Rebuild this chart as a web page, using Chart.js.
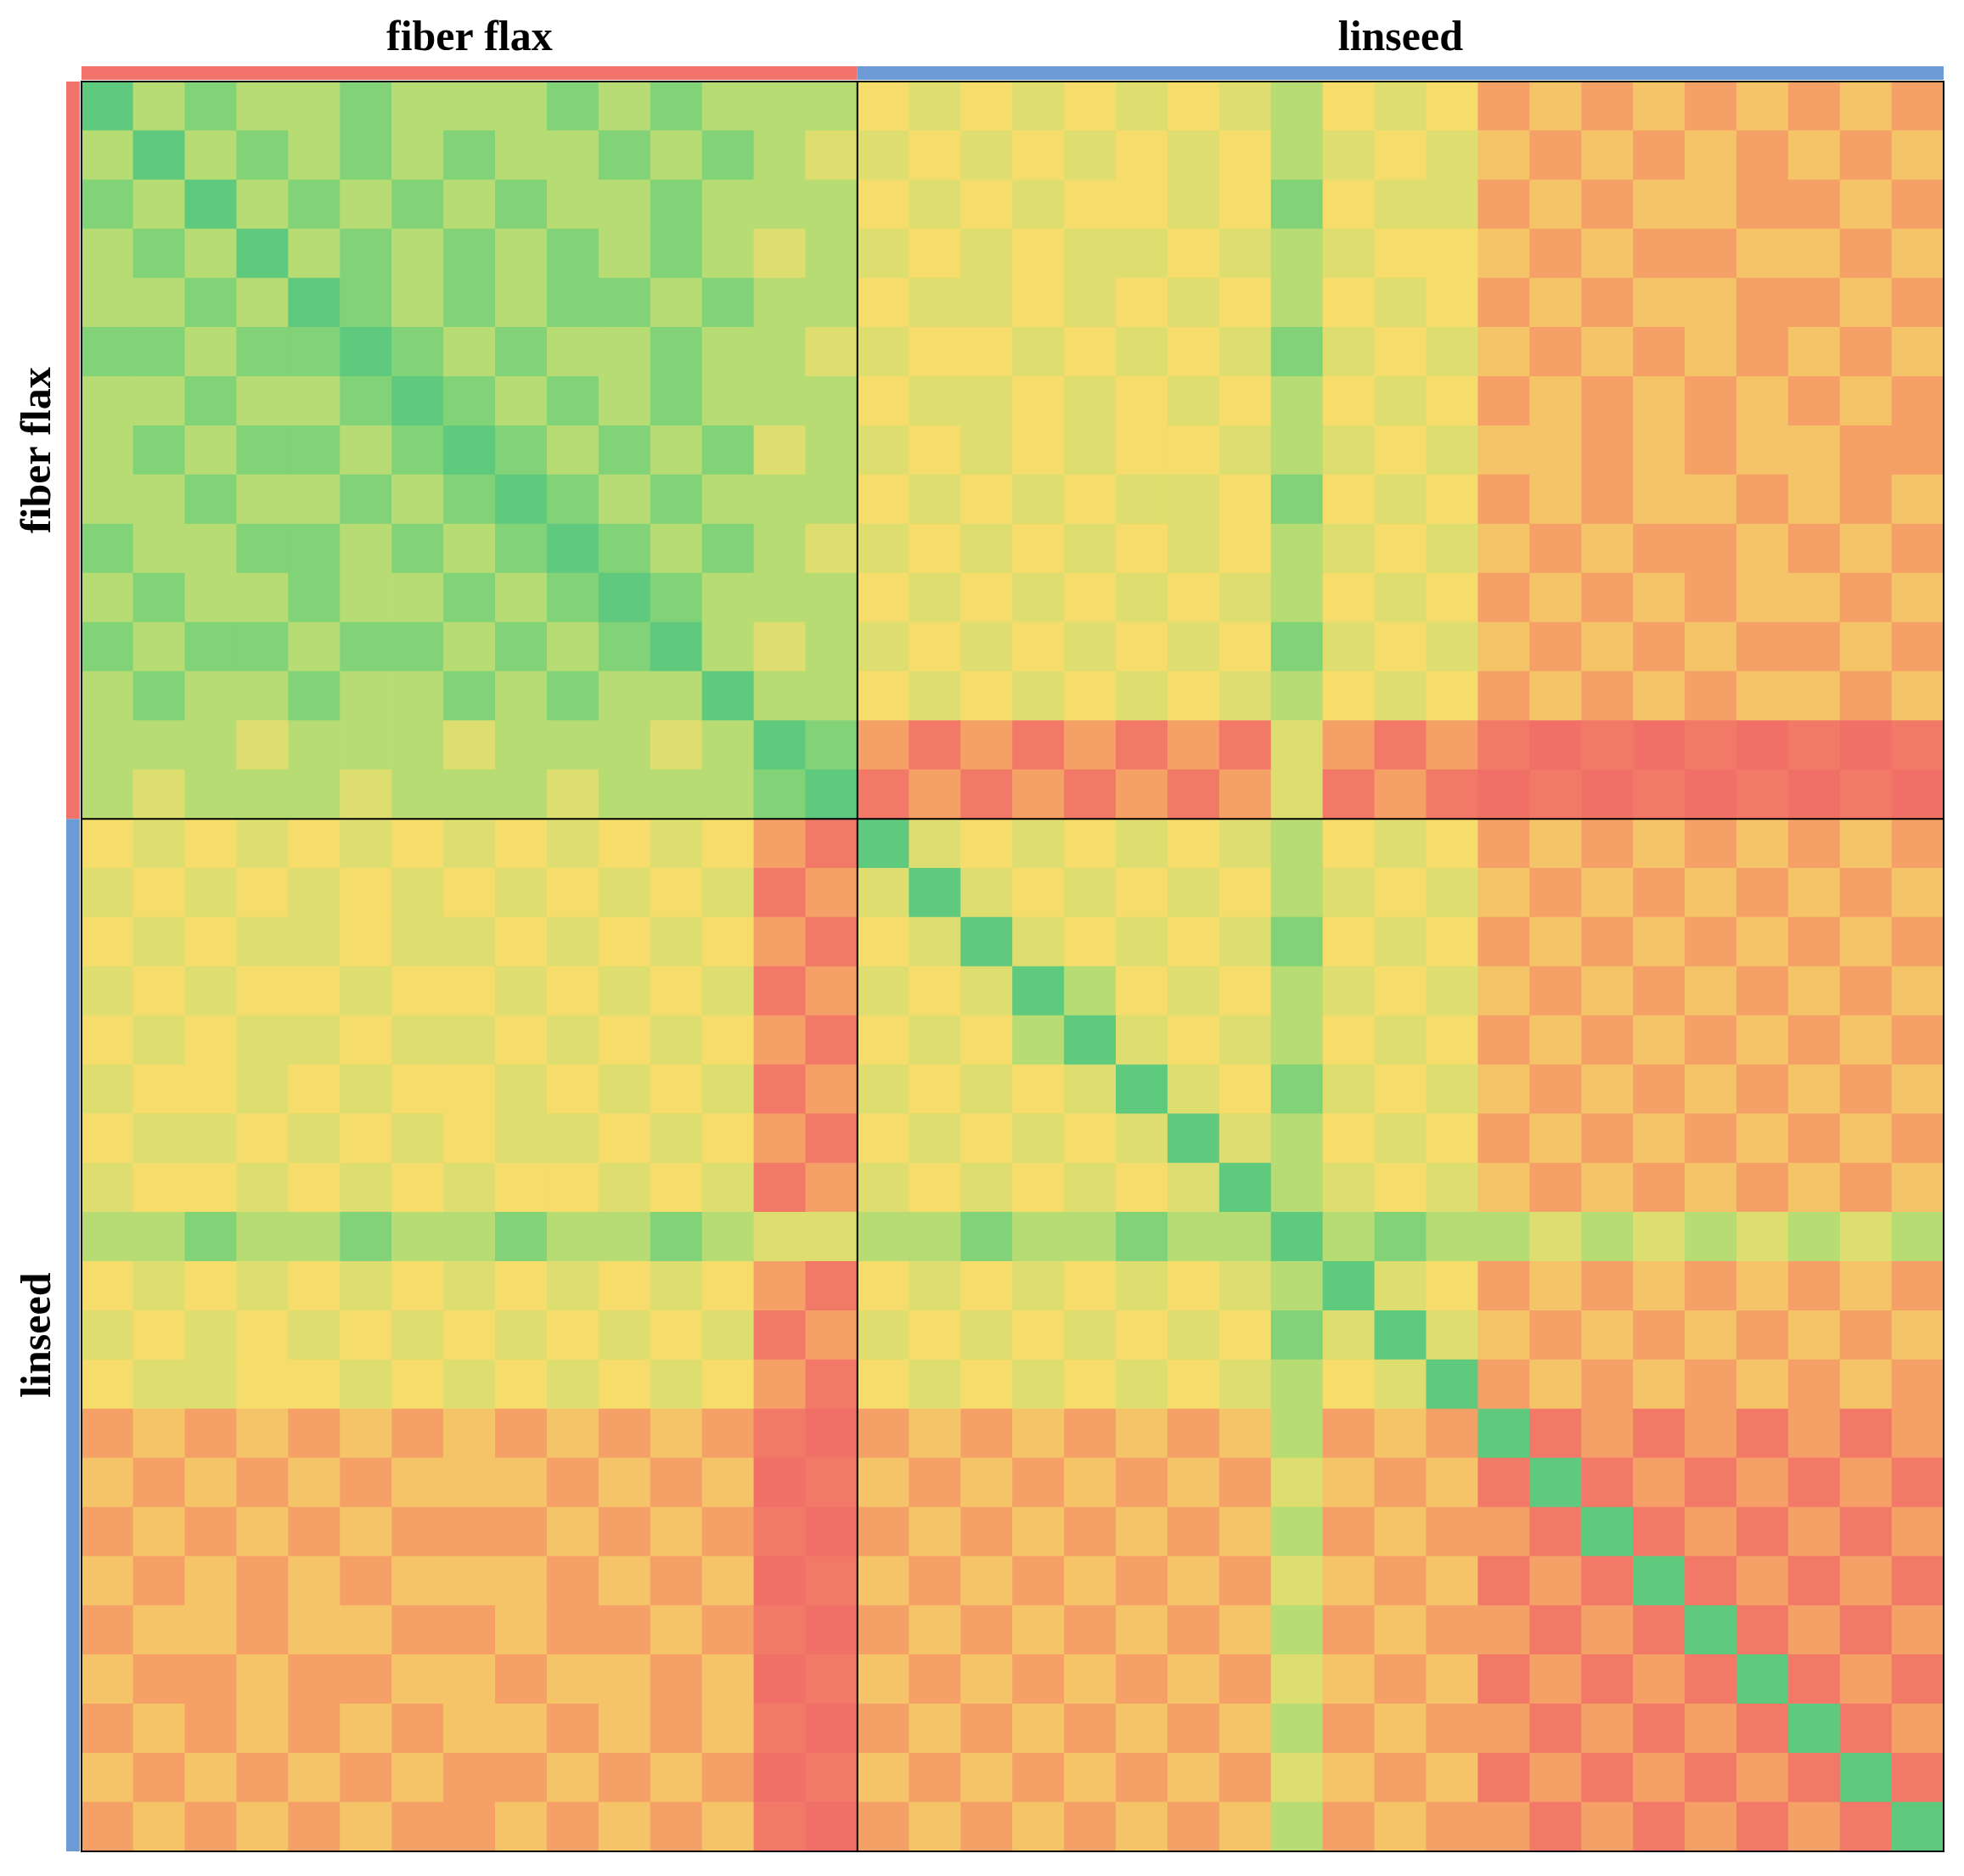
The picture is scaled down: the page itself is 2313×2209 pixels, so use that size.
<!DOCTYPE html>
<html>
<head>
<meta charset="utf-8">
<script src="https://cdn.jsdelivr.net/npm/chart.js@4"></script>
<style>
  body { margin: 0; background: #fff; }
  canvas { display: block; }
</style>
</head>
<body>
<canvas id="heat" width="2313" height="2209"></canvas>
<script>
// groups: 15 fiber flax samples, 21 linseed samples
const groupNames = ['fiber flax', 'linseed'];
const groupSizes = [15, 21];
const groupColors = ['#f2736b', '#6d9bd6'];

// similarity scores 0 (red) .. 9 (green); only the upper triangle is read
const rows = [
  '978778777878777565656567565343434343',
  '797878787787876656565657656434343434',
  '879787878778777565655658566343443343',
  '787978787878767656566567655434334434',
  '878798787887877566565657565343443343',
  '787879878778776655656568656434343434',
  '878787987878777566565657565343434343',
  '787878798787867656565567656443434433',
  '878787879878777565656658565343443434',
  '787878787987876656565657656434334343',
  '878787878798777565656567565343434434',
  '787878787879767656565658656434343343',
  '878787878787977565656567565343434434',
  '777777777777798323232326323212121212',
  '777777777777789232323236232121212121',
  '---------------965656567565343434343',
  '---------------696565657656434343434',
  '---------------569656568565343434343',
  '---------------656975657656434343434',
  '---------------565796567565343434343',
  '---------------656569658656434343434',
  '---------------565656967565343434343',
  '---------------656565697656434343434',
  '---------------778787879787767676767',
  '---------------565656567965343434343',
  '---------------656565657696434343434',
  '---------------565656567569343434343',
  '---------------------------923232323',
  '---------------------------292323232',
  '---------------------------329232323',
  '---------------------------232923232',
  '---------------------------323292323',
  '---------------------------232329232',
  '---------------------------323232923',
  '---------------------------232323292',
  '---------------------------323232329'
];

const palette = [
  [240, 104, 100], [240, 112, 104], [242, 120, 104], [244, 160, 102], [245, 196, 104],
  [246, 220, 106], [222, 222, 112], [182, 220, 115], [130, 210, 120], [95, 201, 125]
];

const N = rows.length;
const labels = Array.from({ length: N }, (_, i) => String(i));

function score(r, c) {
  const a = Math.min(r, c), b = Math.max(r, c);
  return Number(rows[a][b]);
}
function colorOf(v) {
  const p = palette[v];
  return `rgb(${p[0]},${p[1]},${p[2]})`;
}

// one stacked dataset per row, bottom dataset = last row
const datasets = [];
for (let d = 0; d < N; d++) {
  const r = N - 1 - d;
  datasets.push({
    data: labels.map(() => 1),
    backgroundColor: labels.map((_, c) => colorOf(score(r, c))),
    borderWidth: 0,
    barPercentage: 1.0,
    categoryPercentage: 1.0,
    stack: 's'
  });
}

const frame = {
  id: 'frame',
  afterDatasetsDraw(chart) {
    const { ctx, chartArea: a } = chart;
    const split = groupSizes[0];
    const cw = (a.right - a.left) / N;
    const ch = (a.bottom - a.top) / N;
    const sx = a.left + split * cw;
    const sy = a.top + split * ch;

    ctx.save();
    ctx.strokeStyle = '#000';
    ctx.lineWidth = 2;
    ctx.strokeRect(a.left, a.top, a.right - a.left, a.bottom - a.top);
    ctx.beginPath();
    ctx.moveTo(sx, a.top); ctx.lineTo(sx, a.bottom);
    ctx.moveTo(a.left, sy); ctx.lineTo(a.right, sy);
    ctx.stroke();

    // group bars
    const t = 16;
    ctx.fillStyle = groupColors[0];
    ctx.fillRect(a.left, a.top - t - 2, sx - a.left, t);
    ctx.fillRect(a.left - t - 2, a.top, t, sy - a.top);
    ctx.fillStyle = groupColors[1];
    ctx.fillRect(sx, a.top - t - 2, a.right - sx, t);
    ctx.fillRect(a.left - t - 2, sy, t, a.bottom - sy);

    // group titles
    ctx.fillStyle = '#000';
    ctx.font = 'bold 50px "Liberation Serif", "DejaVu Serif", serif';
    ctx.textAlign = 'center';
    ctx.textBaseline = 'middle';
    ctx.fillText(groupNames[0], (a.left + sx) / 2, 46);
    ctx.fillText(groupNames[1], (sx + a.right) / 2, 46);
    ctx.save();
    ctx.translate(46, (a.top + sy) / 2);
    ctx.rotate(-Math.PI / 2);
    ctx.fillText(groupNames[0], 0, 0);
    ctx.restore();
    ctx.save();
    ctx.translate(46, (sy + a.bottom) / 2);
    ctx.rotate(-Math.PI / 2);
    ctx.fillText(groupNames[1], 0, 0);
    ctx.restore();
    ctx.restore();
  }
};

new Chart(document.getElementById('heat'), {
  type: 'bar',
  data: { labels, datasets },
  options: {
    responsive: false,
    animation: false,
    layout: { padding: { left: 96, top: 96, right: 24, bottom: 29 } },
    plugins: { legend: { display: false }, tooltip: { enabled: false } },
    scales: {
      x: { display: false, stacked: true },
      y: { display: false, stacked: true, min: 0, max: N }
    }
  },
  plugins: [frame]
});
</script>
</body>
</html>
